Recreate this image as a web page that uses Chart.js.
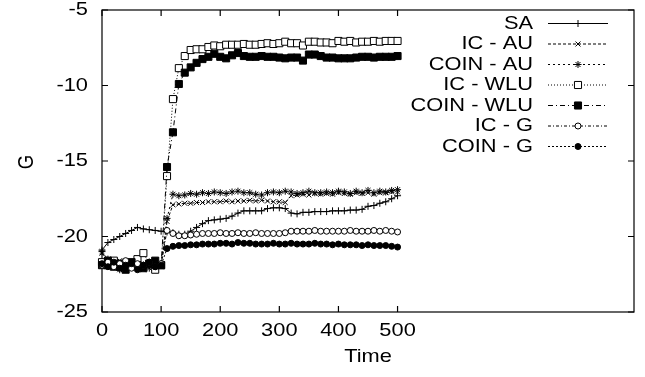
<!DOCTYPE html>
<html>
<head>
<meta charset="utf-8">
<script src="https://cdn.jsdelivr.net/npm/chart.js@4.4.1/dist/chart.umd.min.js"></script>
<style>
  body { margin: 0; background: #fff; }
  canvas { display: block; }
</style>
</head>
<body>
<canvas id="chart" width="645" height="377"></canvas>
<script>
// Time axis (one sample every 10 steps)
const times = [0, 10, 20, 30, 40, 50, 60, 70, 80, 90, 100, 110, 120, 130, 140, 150, 160, 170, 180, 190, 200,
  210, 220, 230, 240, 250, 260, 270, 280, 290, 300, 310, 320, 330, 340, 350, 360, 370, 380, 390, 400,
  410, 420, 430, 440, 450, 460, 470, 480, 490, 500]

const saValues = [-20.9, -20.4, -20.2, -20.0, -19.8, -19.6, -19.4, -19.5, -19.55, -19.6, -19.65,
  -19.7, -19.75, -19.85, -19.85, -19.65, -19.4, -19.15, -18.95, -18.9, -18.85,
  -18.8, -18.65, -18.45, -18.3, -18.3, -18.3, -18.3, -18.15, -18.1, -18.1,
  -18.15, -18.45, -18.5, -18.4, -18.4, -18.35, -18.35, -18.35, -18.3, -18.3,
  -18.3, -18.25, -18.25, -18.2, -18.0, -17.95, -17.8, -17.7, -17.5, -17.3]

const icAuValues = [-21.1, -21.8, -22.0, -21.6, -22.1, -21.7, -21.9, -22.2, -21.8, -21.6, -22.0,
  -19.0, -17.9, -17.85, -17.8, -17.8, -17.75, -17.75, -17.7, -17.7, -17.7,
  -17.65, -17.7, -17.65, -17.65, -17.6, -17.65, -17.6, -17.65, -17.7, -17.7,
  -17.75, -17.3, -17.25, -17.2, -17.25, -17.15, -17.2, -17.15, -17.2, -17.1,
  -17.15, -17.2, -17.1, -17.15, -17.1, -17.2, -17.1, -17.1, -17.05, -17.05]

const coinAuValues = [-21.0, -21.5, -21.9, -22.2, -21.7, -22.0, -21.6, -21.9, -22.1, -21.7, -21.8,
  -18.8, -17.2, -17.3, -17.25, -17.15, -17.2, -17.1, -17.15, -17.05, -17.1,
  -17.15, -17.05, -17.0, -17.1, -17.1, -17.2, -17.25, -17.1, -17.05, -17.1,
  -17.0, -17.05, -17.15, -17.1, -17.0, -17.1, -17.1, -17.05, -17.1, -17.0,
  -17.05, -17.15, -17.0, -17.1, -16.95, -17.1, -17.0, -17.05, -16.95, -16.9]

const icWluValues = [-21.7, -21.9, -21.6, -22.0, -21.8, -21.9, -21.5, -21.1, -21.8, -22.2, -21.9,
  -16.0, -10.9, -8.85, -8.05, -7.65, -7.6, -7.6, -7.45, -7.35, -7.4,
  -7.3, -7.3, -7.3, -7.25, -7.3, -7.3, -7.25, -7.2, -7.25, -7.2,
  -7.1, -7.2, -7.2, -7.35, -7.1, -7.1, -7.15, -7.15, -7.2, -7.05,
  -7.1, -7.05, -7.15, -7.1, -7.1, -7.05, -7.1, -7.05, -7.05, -7.05]

const coinWluValues = [-21.9, -21.6, -22.0, -21.8, -22.2, -21.7, -21.9, -22.1, -21.8, -21.6, -21.9,
  -15.4, -13.1, -9.9, -9.15, -8.8, -8.5, -8.25, -8.1, -7.9, -8.1,
  -8.2, -8.0, -7.85, -8.05, -8.1, -8.1, -8.05, -8.1, -8.1, -8.15,
  -8.2, -8.15, -8.15, -8.35, -7.95, -7.95, -8.05, -8.15, -8.15, -8.2,
  -8.2, -8.2, -8.15, -8.1, -8.1, -8.15, -8.1, -8.1, -8.1, -8.05]

const icGValues = [-21.9, -21.7, -22.0, -21.8, -21.6, -22.1, -21.8, -21.9, -21.7, -22.0, -21.8,
  -19.6, -19.8, -19.95, -19.95, -19.9, -19.85, -19.8, -19.8, -19.8, -19.75,
  -19.8, -19.8, -19.75, -19.8, -19.8, -19.75, -19.8, -19.8, -19.8, -19.8,
  -19.75, -19.65, -19.65, -19.65, -19.65, -19.6, -19.65, -19.65, -19.65, -19.65,
  -19.65, -19.6, -19.65, -19.65, -19.65, -19.6, -19.65, -19.6, -19.65, -19.7]

const coinGValues = [-21.8, -22.0, -21.7, -22.1, -21.9, -21.8, -22.2, -21.9, -21.7, -22.0, -21.9,
  -20.8, -20.65, -20.6, -20.6, -20.55, -20.55, -20.5, -20.5, -20.5, -20.45,
  -20.45, -20.5, -20.4, -20.45, -20.45, -20.5, -20.5, -20.5, -20.45, -20.5,
  -20.5, -20.45, -20.5, -20.5, -20.5, -20.45, -20.5, -20.5, -20.55, -20.5,
  -20.55, -20.55, -20.55, -20.6, -20.55, -20.6, -20.6, -20.6, -20.65, -20.7]

const seriesLabels = ["SA", "IC - AU", "COIN - AU", "IC - WLU", "COIN - WLU", "IC - G", "COIN - G"]
const xTicks = [0, 100, 200, 300, 400, 500]
const yTicks = [-25, -20, -15, -10, -5]

const FONT = '18.5px "Liberation Sans", Arial, sans-serif'
const SX = 1.18 // the reference text is a bit wider than normal

// Build one dataset in gnuplot style
function makeDataset(label, values, pointStyle, dash, filled, radius, order) {
  return {
    label: label,
    data: values.map((v, i) => ({ x: times[i], y: v })),
    borderColor: "#000",
    borderWidth: 1,
    borderDash: dash,
    pointStyle: pointStyle,
    pointRadius: radius,
    pointBorderWidth: 1,
    pointBorderColor: "#000",
    pointBackgroundColor: filled ? "#000" : "#fff",
    tension: 0,
    fill: false,
    clip: false,
    order: order,
  }
}

const datasets = [
  makeDataset(seriesLabels[0], saValues, "cross", [], false, 3.5, 7),
  makeDataset(seriesLabels[1], icAuValues, "crossRot", [3, 2], false, 3.5, 6),
  makeDataset(seriesLabels[2], coinAuValues, "star", [2, 3], false, 3.5, 5),
  makeDataset(seriesLabels[3], icWluValues, "rect", [1, 2], false, 5, 4),
  makeDataset(seriesLabels[4], coinWluValues, "rect", [5, 3, 1, 3], true, 5, 3),
  makeDataset(seriesLabels[5], icGValues, "circle", [3, 2, 1, 2], false, 3, 2),
  makeDataset(seriesLabels[6], coinGValues, "circle", [2, 2], true, 3, 1),
]

// Draw text stretched horizontally
function drawText(ctx, text, x, y, align) {
  ctx.font = FONT
  const w = ctx.measureText(text).width * SX
  let left = x
  if (align === "right") left = x - w
  if (align === "center") left = x - w / 2
  ctx.save()
  ctx.translate(left, y)
  ctx.scale(SX, 1)
  ctx.textAlign = "left"
  ctx.textBaseline = "middle"
  ctx.fillStyle = "#000"
  ctx.fillText(text, 0, 0)
  ctx.restore()
}

// Frame and inward ticks, like gnuplot
const framePlugin = {
  id: "frame",
  beforeDatasetsDraw(chart) {
    const ctx = chart.ctx
    const a = chart.chartArea
    const xs = chart.scales.x
    const ys = chart.scales.y
    ctx.save()
    ctx.strokeStyle = "#000"
    ctx.lineWidth = 1.2
    ctx.setLineDash([])
    ctx.strokeRect(a.left, a.top, a.right - a.left, a.bottom - a.top)
    ctx.beginPath()
    yTicks.forEach((v) => {
      const py = ys.getPixelForValue(v)
      ctx.moveTo(a.left, py)
      ctx.lineTo(a.left + 6, py)
      ctx.moveTo(a.right, py)
      ctx.lineTo(a.right - 6, py)
    })
    xTicks.forEach((v) => {
      const px = xs.getPixelForValue(v)
      ctx.moveTo(px, a.bottom)
      ctx.lineTo(px, a.bottom - 6)
      ctx.moveTo(px, a.top)
      ctx.lineTo(px, a.top + 6)
    })
    ctx.stroke()
    ctx.restore()
  },
  afterDraw(chart) {
    const ctx = chart.ctx
    const xs = chart.scales.x
    const ys = chart.scales.y

    // Tick labels
    yTicks.forEach((v) => drawText(ctx, String(v), 88, ys.getPixelForValue(v), "right"))
    xTicks.forEach((v) => drawText(ctx, String(v), xs.getPixelForValue(v), 331, "center"))

    // Axis titles
    drawText(ctx, "Time", 368, 357, "center")
    ctx.save()
    ctx.font = FONT
    ctx.translate(27, 162)
    ctx.scale(SX, 1)
    ctx.rotate(-Math.PI / 2)
    ctx.textAlign = "center"
    ctx.textBaseline = "middle"
    ctx.fillStyle = "#000"
    ctx.fillText("G", 0, 0)
    ctx.restore()

    // Legend, top right inside the plot
    chart.data.datasets.forEach((ds, i) => {
      const rowY = 23.5 + 20.5 * i
      drawText(ctx, ds.label, 533, rowY, "right")
      ctx.save()
      ctx.strokeStyle = "#000"
      ctx.lineWidth = 1
      ctx.setLineDash(ds.borderDash)
      ctx.beginPath()
      ctx.moveTo(548, rowY)
      ctx.lineTo(608, rowY)
      ctx.stroke()
      ctx.setLineDash([])
      ctx.fillStyle = ds.pointBackgroundColor
      ctx.strokeStyle = "#000"
      Chart.helpers.drawPoint(ctx, {
        pointStyle: ds.pointStyle,
        radius: ds.pointRadius,
        borderWidth: 1,
        rotation: 0,
      }, 578, rowY)
      ctx.restore()
    })
  },
}

new Chart(document.getElementById("chart"), {
  type: "line",
  data: { datasets: datasets },
  options: {
    responsive: false,
    animation: false,
    devicePixelRatio: 1,
    layout: { padding: { left: 0, top: 10, right: 11, bottom: 0 } },
    plugins: {
      legend: { display: false },
      tooltip: { enabled: false },
    },
    scales: {
      x: {
        type: "linear",
        min: 0,
        max: 900,
        grid: { display: false },
        border: { display: false },
        ticks: { display: false },
        afterFit: (s) => { s.height = 65 },
      },
      y: {
        min: -25,
        max: -5,
        grid: { display: false },
        border: { display: false },
        ticks: { display: false, stepSize: 5 },
        afterFit: (s) => { s.width = 102 },
      },
    },
  },
  plugins: [framePlugin],
})
</script>
</body>
</html>
